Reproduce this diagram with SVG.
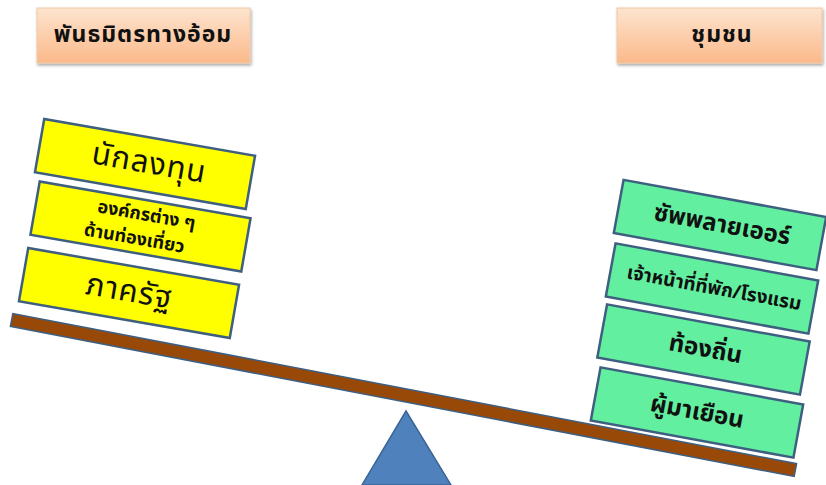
<svg xmlns="http://www.w3.org/2000/svg" width="826" height="485" viewBox="0 0 826 485">
<defs>
<linearGradient id="og" x1="0" y1="0" x2="0" y2="1">
<stop offset="0" stop-color="#fde4cf"/>
<stop offset="1" stop-color="#fbb98a"/>
</linearGradient>
<filter id="sh" x="-10%" y="-10%" width="130%" height="140%">
<feDropShadow dx="1" dy="2" stdDeviation="1.5" flood-color="#000" flood-opacity="0.35"/>
</filter>
<style>
.title{fill:url(#og);stroke:#f0c8a4;stroke-width:1;filter:url(#sh)}
.yb{fill:#ffff00;stroke:#3e5f80;stroke-width:2.5}
.gb{fill:#62f0a0;stroke:#3e5f80;stroke-width:2.5}
text{font-family:"Noto Sans Thai","Noto Sans","DejaVu Sans",Tahoma,sans-serif;fill:#111;text-anchor:middle;dominant-baseline:central}
.tt{font-size:23px;font-weight:bold;letter-spacing:1px}
.big{font-size:31px;letter-spacing:1px}
.mid{font-size:18px;font-weight:bold}
.sm{font-size:19px;font-weight:bold}
.rg{font-size:24px;font-weight:bold}
</style>
</defs>
<rect width="826" height="485" fill="#fff"/>
<g id="title-left">
<rect class="title" x="37" y="8" width="213" height="55"/>
<text class="tt" x="143" y="35">พันธมิตรทางอ้อม</text>
</g>
<g id="title-right">
<rect class="title" x="617" y="8" width="205" height="55"/>
<text class="tt" x="722" y="35">ชุมชน</text>
</g>
<g id="beam">
<rect x="-399" y="-6.5" width="798" height="13" fill="#984807" stroke="#3e5f80" stroke-width="1.5" transform="translate(403.5,395) rotate(10.84)"/>
</g>
<g id="fulcrum">
<polygon points="406,411 451,485 362,485" fill="#4f81bd" stroke="#3a6596" stroke-width="1.5"/>
</g>
<g id="investor" transform="translate(145,164) rotate(9.9)">
<rect class="yb" x="-107" y="-27" width="214" height="54"/>
<text class="big" x="4" y="-1">นักลงทุน</text>
</g>
<g id="tourism-org" transform="translate(140.5,226.5) rotate(9.9)">
<rect class="yb" x="-107" y="-27" width="214" height="54"/>
<text class="mid" x="4" y="-12">องค์กรต่าง ๆ</text>
<text class="mid" x="-4" y="13">ด้านท่องเที่ยว</text>
</g>
<g id="government" transform="translate(129,293) rotate(9.9)">
<rect class="yb" x="-107" y="-27" width="214" height="54"/>
<text class="big" x="0" y="-1">ภาครัฐ</text>
</g>
<g id="supplier" transform="translate(720,225) rotate(10.4)">
<rect class="gb" x="-103" y="-27" width="206" height="54"/>
<text class="rg" x="2" y="0">ซัพพลายเออร์</text>
</g>
<g id="hotel-staff" transform="translate(712,288.5) rotate(10.4)">
<rect class="gb" x="-103" y="-27" width="206" height="54"/>
<text class="sm" x="2" y="0">เจ้าหน้าที่ที่พัก/โรงแรม</text>
</g>
<g id="local" transform="translate(703.5,349.5) rotate(10.4)">
<rect class="gb" x="-103" y="-27" width="206" height="54"/>
<text class="rg" x="2" y="0">ท้องถิ่น</text>
</g>
<g id="visitor" transform="translate(697,412.5) rotate(10.4)">
<rect class="gb" x="-103" y="-27" width="206" height="54"/>
<text class="rg" x="0" y="0">ผู้มาเยือน</text>
</g>
</svg>
